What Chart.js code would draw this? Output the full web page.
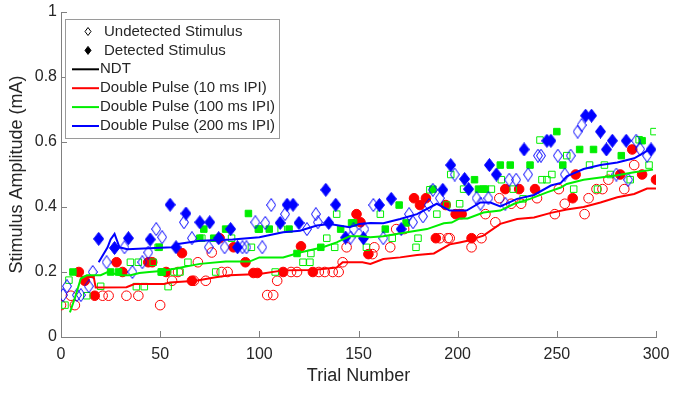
<!DOCTYPE html>
<html>
<head>
<meta charset="utf-8">
<script src="https://cdn.jsdelivr.net/npm/chart.js@4/dist/chart.umd.min.js"></script>
<style>
  html, body { margin: 0; padding: 0; background: #fff; }
  #wrap { width: 673px; height: 396px; }
</style>
</head>
<body>
<div id="wrap"><canvas id="grafico" width="673" height="396"></canvas></div>
<script>
// --- DATA (trial number, stimulus amplitude in mA) ---
const xTickValues = [0, 50, 100, 150, 200, 250, 300];
const yTickValues = [0, 0.2, 0.4, 0.6, 0.8, 1];

const legendLabels = [
    'Undetected Stimulus',
    'Detected Stimulus',
    'NDT',
    'Double Pulse (10 ms IPI)',
    'Double Pulse (100 ms IPI)',
    'Double Pulse (200 ms IPI)'
];

// 10 ms IPI (red circles)
const redUndetected = [
    [0, .098], [5, .127], [7, .098], [21, .127], [24, .127], [33, .127], [39, .127], [50, .098],
    [56, .173], [59, .20], [67, .173], [69, .23], [73, .173], [76, .26], [81, .20], [84, .20],
    [104, .129], [107, .129], [109, .173], [116, .20], [119, .20], [130, .20], [133, .20], [137, .20],
    [140, .20], [142, .23], [144, .276], [157, .255], [158, .276], [166, .276], [169, .332], [173, .332],
    [191, .304], [195, .304], [196, .304], [207, .276], [212, .304], [214, .378], [219, .353], [221, .427],
    [227, .41], [232, .41], [240, .427], [249, .378], [251, .455], [254, .41], [264, .378], [266, .427],
    [270, .455], [273, .455], [276, .484], [284, .455], [289, .529]
];
const redDetected = [
    [9, .20], [12, .173], [17, .127], [28, .23], [31, .20], [44, .23], [46, .23], [53, .20],
    [61, .258], [66, .173], [80, .304], [87, .276], [93, .23], [97, .197], [99, .197], [112, .20],
    [121, .279], [127, .20], [149, .378], [151, .353], [155, .255], [178, .427], [181, .406], [184, .427],
    [189, .304], [194, .406], [199, .378], [201, .378], [202, .378], [207, .304], [224, .455], [231, .455],
    [239, .455], [258, .427], [259.5, .50], [282, .50], [288, .577], [293, .50], [300, .484]
];

// 100 ms IPI (green squares)
const greenUndetected = [
    [2, .098], [4, .175], [13, .127], [20, .156], [35, .23], [38, .155], [39, .23], [42, .155],
    [46.5, .23], [49, .276], [54, .155], [57, .20], [60, .20], [64, .23], [71, .304], [78, .20],
    [86, .304], [96, .276], [108, .20], [111, .332], [122, .23], [125.5, .23], [126, .257], [134, .304],
    [138, .276], [139, .378], [154, .276], [161, .378], [167, .304], [179, .276], [180, .304], [186, .453],
    [189.5, .378], [194.5, .406], [196.5, .50], [201, .41], [203, .455], [217, .455], [222, .484], [228, .455],
    [233, .425], [241.5, .606], [242.5, .484], [245, .484], [247.5, .50], [255, .558], [258.5, .455], [266.5, .529],
    [270.5, .455], [274, .529], [277, .50], [287, .484], [291.5, .607], [296.5, .529], [299, .632]
];
const greenDetected = [
    [6, .20], [25, .20], [29, .20], [49.5, .276], [50.5, .20], [51, .20], [70, .304], [72, .332],
    [77, .304], [83, .332], [94.5, .38], [99.5, .332], [100, .332], [105, .332], [115, .332], [119, .257],
    [131, .276], [141, .332], [146.5, .351], [147.5, .351], [163.5, .332], [170.5, .406], [174, .351], [187.5, .455],
    [208.5, .484], [210.5, .455], [213, .455], [214, .455], [221.5, .529], [226.5, .529], [236.5, .529], [250, .632],
    [253, .529], [261.5, .577], [268.5, .577], [282.5, .558], [293, .604]
];

// 200 ms IPI (blue diamonds)
const blueUndetected = [
    [1, .129], [3, .156], [8, .129], [10, .129], [14, .156], [16, .20], [23, .23], [32, .276],
    [36, .20], [41, .23], [44, .26], [48, .332], [51, .307], [62, .353], [66, .304], [74.5, .276],
    [82.5, .276], [91.5, .276], [93.5, .276], [98, .353], [101.5, .276], [103, .351], [106, .406], [113, .378],
    [124, .332], [128.5, .378], [129.5, .353], [146, .306], [147.5, .332], [153, .332], [157.5, .406], [162.5, .304],
    [175.5, .378], [177.5, .353], [182.5, .371], [185.5, .406], [187.5, .453], [191, .427], [198.5, .50], [209.5, .427],
    [211.5, .41], [215.5, .427], [224, .41], [226, .484], [229.5, .484], [235.5, .50], [240.5, .558], [242, .558],
    [250.5, .558], [254, .50], [257, .558], [260.5, .632], [262.5, .652], [280, .50], [286, .484], [290, .604],
    [292, .578], [295.5, .558]
];
const blueDetected = [
    [19, .302], [27, .274], [34, .304], [45, .30], [55, .407], [58, .276], [63, .38], [70, .353],
    [75, .353], [79.5, .304], [85.5, .332], [89, .276], [110.5, .351], [114, .407], [117, .407], [120, .351],
    [133.5, .453], [135, .351], [138.5, .407], [143.5, .306], [152.5, .304], [160.5, .406], [166.5, .425], [171.5, .332],
    [192.5, .453], [196.5, .529], [203.5, .486], [205.5, .455], [216, .529], [219.5, .50], [233.5, .577], [245, .604],
    [247, .604], [264.5, .681], [267.5, .681], [272, .632], [275, .577], [278, .604], [285, .604], [297.5, .577]
];

// Running threshold estimates
const redLine = [
    [10, .185], [16.5, .185], [17.5, .152], [33, .153], [37, .163], [52, .163], [55, .168], [68, .173],
    [78, .184], [85, .19], [100, .194], [112, .205], [127, .206], [139, .214], [142, .23], [152, .23],
    [156, .225], [162.5, .24], [171, .245], [179.5, .252], [188, .257], [196, .285], [201, .291], [205, .296],
    [213, .312], [221.5, .348], [230, .363], [238.5, .368], [247, .382], [255, .392], [263.5, .40], [272, .414],
    [280.5, .43], [289, .44], [295.5, .457], [300, .457]
];
const greenLine = [
    [4.5, .076], [7, .12], [10, .18], [13, .19], [20, .19], [23.5, .20], [30, .19], [35, .19],
    [39.5, .197], [44.5, .20], [52, .204], [54.5, .207], [70, .225], [83, .232], [95, .232], [100, .245],
    [112, .245], [120.5, .26], [132, .276], [139, .291], [145.5, .31], [150.5, .31], [156, .307], [162.5, .31],
    [176, .324], [184.5, .332], [193, .35], [197, .352], [201, .365], [205, .365], [213, .383], [221.5, .389],
    [228.5, .41], [236.5, .425], [245, .445], [252, .46], [255, .471], [263.5, .484], [272, .491], [280.5, .498],
    [289, .507], [298.5, .515]
];
const blueLine = [
    [19, .23], [23.5, .276], [25, .30], [27, .317], [29.5, .276], [33.5, .27], [44.5, .273], [56, .276],
    [59, .286], [70, .296], [86.5, .30], [100, .307], [112, .322], [120.5, .327], [129, .343], [135.5, .348],
    [145.5, .338], [150.5, .348], [156, .351], [162.5, .35], [171, .363], [179.5, .378], [189.5, .41], [196, .389],
    [204.5, .389], [211.5, .414], [216.5, .414], [221.5, .402], [230, .425], [238.5, .437], [247, .466], [252, .474],
    [255, .494], [263.5, .517], [272, .529], [280.5, .537], [289, .55], [295.5, .573], [298, .58]
];

// --- STYLE ---
const FUENTE = "'Liberation Sans', Arial, Helvetica, sans-serif";
const ROJO = '#ff0000';
const VERDE = '#00ee00';
const AZUL = '#0000ff';
const TEXTO = '#262626';
const EJE = '#808080';

const toXY = arr => arr.map(p => ({ x: p[0], y: p[1] }));

// diamond marker (MATLAB style, a bit taller than wide)
const crearRombo = (color, relleno, w, h) => {
    const c = document.createElement('canvas');
    c.width = w; c.height = h;
    const g = c.getContext('2d');
    g.beginPath();
    g.moveTo(w / 2, 0.5);
    g.lineTo(w - 0.5, h / 2);
    g.lineTo(w / 2, h - 0.5);
    g.lineTo(0.5, h / 2);
    g.closePath();
    g.strokeStyle = color;
    g.lineWidth = 1;
    if (relleno) { g.fillStyle = color; g.fill(); }
    g.stroke();
    return c;
};
const romboAbierto = crearRombo(AZUL, false, 10, 14);
const romboLleno = crearRombo(AZUL, true, 11, 14);

const serieLinea = (data, color) => ({
    data: toXY(data), showLine: true, borderColor: color, borderWidth: 2,
    pointRadius: 0, tension: 0, fill: false
});
const serieMarcas = (data, color, estilo, lleno, radio) => ({
    data: toXY(data), showLine: false, pointStyle: estilo, pointRadius: radio,
    borderColor: color, borderWidth: 1,
    backgroundColor: lleno ? color : 'rgba(0,0,0,0)'
});

// --- PLUGINS ---
// inward ticks, like MATLAB axes
const ticksInternos = {
    id: 'ticksInternos',
    afterDraw(chart) {
        const { ctx, chartArea } = chart;
        const xs = chart.scales.x, ys = chart.scales.y;
        ctx.save();
        ctx.strokeStyle = EJE;
        ctx.lineWidth = 1;
        ctx.beginPath();
        xTickValues.forEach(v => {
            const p = Math.round(xs.getPixelForValue(v)) + 0.5;
            ctx.moveTo(p, chartArea.bottom);
            ctx.lineTo(p, chartArea.bottom - 6);
        });
        yTickValues.forEach(v => {
            const p = Math.round(ys.getPixelForValue(v)) + 0.5;
            ctx.moveTo(chartArea.left, p);
            ctx.lineTo(chartArea.left + 6, p);
        });
        ctx.stroke();
        ctx.restore();
    }
};

// boxed legend in the upper left corner
const leyenda = {
    id: 'leyenda',
    afterDraw(chart) {
        const { ctx, chartArea } = chart;
        const x0 = chartArea.left + 4.5, y0 = 19.5, w = 214, h = 119;
        ctx.save();
        ctx.fillStyle = '#fff';
        ctx.fillRect(x0, y0, w, h);
        ctx.strokeStyle = '#9a9a9a';
        ctx.lineWidth = 1;
        ctx.strokeRect(x0, y0, w, h);

        const colores = ['#000', '#000', '#000', ROJO, VERDE, AZUL];
        ctx.font = '15px ' + FUENTE;
        ctx.fillStyle = TEXTO;
        ctx.textBaseline = 'middle';
        legendLabels.forEach((txt, i) => {
            const y = 31.5 + i * 18.9;
            if (i < 2) {
                ctx.beginPath();
                ctx.moveTo(88, y - 4);
                ctx.lineTo(91, y);
                ctx.lineTo(88, y + 4);
                ctx.lineTo(85, y);
                ctx.closePath();
                ctx.strokeStyle = '#000';
                ctx.lineWidth = 1;
                if (i === 1) { ctx.fillStyle = '#000'; ctx.fill(); }
                ctx.stroke();
                ctx.fillStyle = TEXTO;
                ctx.fillText(txt, 104, y);
            } else {
                ctx.beginPath();
                ctx.moveTo(72, y);
                ctx.lineTo(99, y);
                ctx.strokeStyle = colores[i];
                ctx.lineWidth = 2;
                ctx.stroke();
                ctx.fillStyle = TEXTO;
                ctx.fillText(txt, 100, y);
            }
        });
        ctx.restore();
    }
};

// --- CHART ---
new Chart(document.getElementById('grafico').getContext('2d'), {
    type: 'scatter',
    data: {
        datasets: [
            serieLinea(blueLine, AZUL),
            serieLinea(greenLine, VERDE),
            serieLinea(redLine, ROJO),
            serieMarcas(blueDetected, AZUL, romboLleno, true, 5),
            serieMarcas(blueUndetected, AZUL, romboAbierto, false, 5),
            serieMarcas(greenDetected, VERDE, 'rect', true, 4.6),
            serieMarcas(greenUndetected, VERDE, 'rect', false, 4.6),
            serieMarcas(redDetected, ROJO, 'circle', true, 4.8),
            serieMarcas(redUndetected, ROJO, 'circle', false, 4.8)
        ]
    },
    options: {
        responsive: false,
        animation: false,
        devicePixelRatio: 1,
        layout: { padding: { left: 0, right: 17, top: 12, bottom: 0 } },
        plugins: { legend: { display: false }, tooltip: { enabled: false } },
        scales: {
            x: {
                type: 'linear', min: 0, max: 300,
                afterFit: s => { s.height = 59; s.paddingLeft = 0; s.paddingRight = 0; },
                afterBuildTicks: s => { s.ticks = xTickValues.map(v => ({ value: v })); },
                ticks: { color: TEXTO, font: { family: FUENTE, size: 16 }, padding: 8, maxRotation: 0 },
                grid: { display: false, drawTicks: false },
                border: { display: true, color: EJE, width: 1 },
                title: {
                    display: true, text: 'Trial Number', color: TEXTO,
                    font: { family: FUENTE, size: 18 }, padding: { top: 0, bottom: 9 }
                }
            },
            y: {
                type: 'linear', min: 0, max: 1,
                afterFit: s => { s.width = 61; s.paddingTop = 0; s.paddingBottom = 0; },
                afterBuildTicks: s => { s.ticks = yTickValues.map(v => ({ value: v })); },
                ticks: {
                    color: TEXTO, font: { family: FUENTE, size: 16 }, padding: 4,
                    callback: v => String(Number(v.toFixed(1)))
                },
                grid: { display: false, drawTicks: false },
                border: { display: true, color: EJE, width: 1 },
                title: {
                    display: true, text: 'Stimulus Amplitude (mA)', color: TEXTO,
                    font: { family: FUENTE, size: 18 }, padding: { top: 6, bottom: 0 }
                }
            }
        }
    },
    plugins: [ticksInternos, leyenda]
});
</script>
</body>
</html>
